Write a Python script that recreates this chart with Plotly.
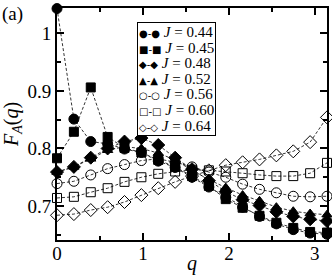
import numpy as np
import plotly.graph_objects as go

q = [n * np.pi / 16 for n in range(17)]

labels = ["0.44", "0.45", "0.48", "0.52", "0.56", "0.60", "0.64"]

F_044 = [1.043, 0.851, 0.812, 0.808, 0.799, 0.793, 0.778, 0.767, 0.750, 0.733, 0.715, 0.698, 0.682, 0.669, 0.659, 0.653, 0.651]
F_045 = [0.783, 0.829, 0.906, 0.820, 0.801, 0.793, 0.780, 0.768, 0.752, 0.735, 0.712, 0.697, 0.683, 0.671, 0.662, 0.655, 0.654]
F_048 = [0.759, 0.768, 0.784, 0.800, 0.812, 0.818, 0.806, 0.784, 0.764, 0.744, 0.725, 0.711, 0.701, 0.690, 0.682, 0.677, 0.674]
F_052 = [0.759, 0.768, 0.782, 0.797, 0.803, 0.800, 0.792, 0.780, 0.762, 0.746, 0.732, 0.719, 0.709, 0.698, 0.691, 0.687, 0.685]
F_056 = [0.739, 0.743, 0.754, 0.765, 0.772, 0.779, 0.782, 0.776, 0.768, 0.759, 0.750, 0.738, 0.729, 0.723, 0.717, 0.716, 0.717]
F_060 = [0.714, 0.716, 0.724, 0.731, 0.742, 0.750, 0.756, 0.760, 0.763, 0.762, 0.760, 0.757, 0.754, 0.752, 0.752, 0.757, 0.775]
F_064 = [0.684, 0.686, 0.693, 0.698, 0.707, 0.719, 0.731, 0.742, 0.752, 0.762, 0.771, 0.776, 0.781, 0.788, 0.795, 0.811, 0.854]

series = [F_044, F_045, F_048, F_052, F_056, F_060, F_064]
symbols = ["circle", "square", "diamond", "triangle-up", "circle-open", "square-open", "diamond-open"]
legend_glyphs = ["●", "■", "◆", "▲", "○", "□", "◇"]
sizes = [10, 9, 10, 9, 10, 9, 10]

y_tickvals = [0.7, 0.8, 0.9, 1.0]
y_ticktext = ["0.7", "0.8", "0.9", "1"]
x_tickvals = [0, 1, 2, 3]

FONT = "'Times New Roman', 'Liberation Serif', 'DejaVu Serif', serif"

fig = go.Figure()
for lab, ys, sym, sz in zip(labels, series, symbols, sizes):
    fig.add_trace(go.Scatter(
        x=q, y=ys, mode="lines+markers",
        name=f"<i>J</i> = {lab}",
        line=dict(color="black", width=0.8, dash="3px,2px"),
        marker=dict(symbol=sym, size=sz, color="black",
                    line=dict(color="black", width=1)),
        cliponaxis=False, showlegend=False,
    ))

# compact legend box (line pitch matches the reference)
rows = []
for g, lab in zip(legend_glyphs, labels):
    rows.append(
        f"<span style='font-family:DejaVu Sans;font-size:10px'>{g}-{g}</span>"
        f"<span style='font-size:15px'> <i>J</i> = {lab}</span>"
    )
fig.add_annotation(
    text="<br>".join(rows), xref="paper", yref="paper",
    x=0.296, y=0.94, xanchor="left", yanchor="top", align="left",
    showarrow=False, bordercolor="black", borderwidth=1, borderpad=1,
    bgcolor="white", font=dict(family=FONT, size=12),
)

fig.update_layout(
    width=332, height=277,
    margin=dict(l=57, r=5, t=8, b=37, autoexpand=False),
    paper_bgcolor="white", plot_bgcolor="white",
    font=dict(family=FONT, size=19, color="black"),
    showlegend=False,
)

fig.update_xaxes(
    range=[0, np.pi], tickvals=x_tickvals, ticktext=[str(v) for v in x_tickvals],
    showline=True, linecolor="black", linewidth=2, mirror="ticks",
    ticks="inside", ticklen=7, tickwidth=1.5, tickcolor="black",
    minor=dict(dtick=0.5, ticks="inside", ticklen=4, tickwidth=1.5, tickcolor="black", showgrid=False),
    showgrid=False, zeroline=False, automargin=False,
    ticklabelstandoff=-5,
    tickfont=dict(family=FONT, size=19),
)
fig.update_yaxes(
    range=[0.641, 1.044], tickvals=y_tickvals, ticktext=y_ticktext,
    showline=True, linecolor="black", linewidth=2, mirror="ticks",
    ticks="inside", ticklen=7, tickwidth=1.5, tickcolor="black",
    minor=dict(tick0=0.65, dtick=0.05, ticks="inside", ticklen=4, tickwidth=1.5, tickcolor="black", showgrid=False),
    showgrid=False, zeroline=False, automargin=False,
    title=dict(text="<i>F<sub>A</sub></i>(<i>q</i>)", font=dict(family=FONT, size=20), standoff=4),
    tickfont=dict(family=FONT, size=19),
)

fig.add_annotation(
    text="<i>q</i>", xref="paper", yref="paper", x=0.5, y=-0.1,
    xanchor="center", yanchor="middle", showarrow=False,
    font=dict(family=FONT, size=20),
)
fig.add_annotation(
    text="(a)", xref="paper", yref="paper", x=-0.21, y=0.975,
    xanchor="left", yanchor="middle", showarrow=False,
    font=dict(family=FONT, size=19),
)

fig.write_html("out.html", config={"displayModeBar": False},
               post_script="document.body.style.margin='0';")
